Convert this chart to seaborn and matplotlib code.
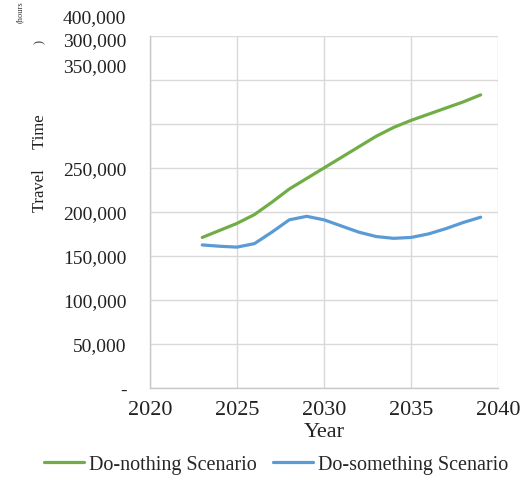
import numpy as np
import pandas as pd
import matplotlib
matplotlib.use("Agg")
import matplotlib.pyplot as plt
import matplotlib.transforms as mtransforms
import seaborn as sns

# Annual travel time, 2023-2039
years = list(range(2023, 2040))
do_nothing = [171000, 179000, 187000, 197000, 211000, 226000, 238000, 250000,
              262000, 274000, 286000, 296000, 304000, 311000, 318000, 325000, 333000]
do_something = [162500, 161000, 160000, 164000, 177000, 191000, 195000, 191000,
                184000, 177000, 172000, 170000, 171000, 175000, 181000, 188000, 194000]
scenarios = ["Do-nothing Scenario", "Do-something Scenario"]
colors = ["#70AD47", "#5B9BD5"]

y_ticks = [0, 50000, 100000, 150000, 200000, 250000, 300000, 350000, 400000]
y_tick_labels = ["-", "50,000", "100,000", "150,000", "200,000", "250,000",
                 "300,000", "350,000", "400,000"]
x_ticks = [2020, 2025, 2030, 2035, 2040]

df = pd.DataFrame({
    "Year": years * 2,
    "Travel Time": do_nothing + do_something,
    "Scenario": [scenarios[0]] * len(years) + [scenarios[1]] * len(years),
})

sns.set_theme(style="white")
plt.rcParams["font.family"] = ["Liberation Serif", "DejaVu Serif"]

fig = plt.figure(figsize=(5.21, 4.85), dpi=100)
ax = fig.add_axes([0.288, 0.198, 0.668, 0.726])

sns.lineplot(data=df, x="Year", y="Travel Time", hue="Scenario",
             palette=colors, linewidth=2.3, ax=ax, legend=False)

ax.set_xlim(2020, 2040)
ax.set_ylim(0, 400000)
ax.set_xticks(x_ticks)
ax.set_xticklabels([str(v) for v in x_ticks], fontsize=16, color="#222222")
ax.set_yticks(y_ticks)
ax.set_yticklabels(y_tick_labels, fontsize=14, color="#222222")
ax.tick_params(axis="both", length=0)
ax.tick_params(axis="y", pad=17)
ax.tick_params(axis="x", pad=9)

ax.grid(True, color="#D9D9D9", linewidth=1.0)
for side in ["top", "right"]:
    ax.spines[side].set_visible(False)
for side in ["left", "bottom"]:
    ax.spines[side].set_color("#C8C8C8")
    ax.spines[side].set_linewidth(1.0)

# upper y labels sit displaced above their gridlines
shifts = {"300,000": 0.85, "350,000": 0.15, "400,000": 0.20}
for lbl in ax.get_yticklabels():
    dy = shifts.get(lbl.get_text())
    if dy:
        lbl.set_transform(lbl.get_transform() +
                          mtransforms.ScaledTranslation(0, dy, fig.dpi_scale_trans))

ax.set_xlabel("Year", fontsize=16, color="#222222", labelpad=2)
ax.set_ylabel("")
fig.text(40 / 521, 1 - 163 / 485, "Travel     Time", rotation=90, fontsize=12,
         ha="center", va="center", color="#222222")
fig.text(20 / 521, 1 - 12 / 485, "(hours", rotation=90, fontsize=6,
         ha="center", va="center", color="#333333")
fig.text(40 / 521, 1 - 42 / 485, ")", rotation=90, fontsize=9,
         ha="center", va="center", color="#333333")

handles = [plt.Line2D([], [], color=c, linewidth=2.3) for c in colors]
fig.legend(handles, scenarios, loc="center", bbox_to_anchor=(276 / 521, 1 - 465 / 485),
           ncol=2, frameon=False, fontsize=14.5, handlelength=2.0,
           handletextpad=0.25, columnspacing=0.8)

fig.savefig("out.png", dpi=100)
